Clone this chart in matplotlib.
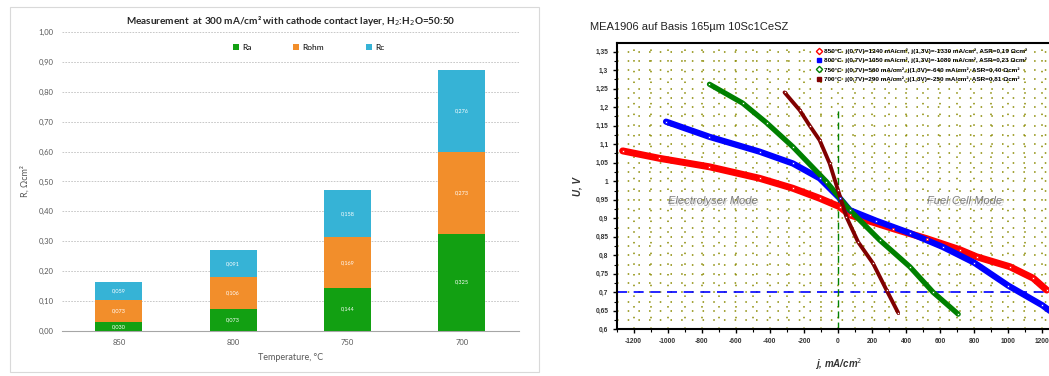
import matplotlib
matplotlib.use("Agg")
import matplotlib.pyplot as plt
from matplotlib.lines import Line2D
from matplotlib.patches import Rectangle
import matplotlib.ticker as mticker

# ---------------- Left chart data ----------------
temperatures = ["850", "800", "750", "700"]
r_a = [0.030, 0.073, 0.144, 0.325]
r_ohm = [0.073, 0.106, 0.169, 0.273]
r_c = [0.059, 0.091, 0.158, 0.276]
bar_series = ["Ra", "Rohm", "Rc"]
bar_colors = ["#12a012", "#f28e2b", "#36b3d6"]

# ---------------- Right chart data ----------------
j_850 = [-1265, -1049, -755, -461, -265, -108, 10, 69, 324, 520, 716, 814, 1010, 1147, 1226]
u_850 = [1.082, 1.062, 1.039, 1.008, 0.981, 0.954, 0.931, 0.909, 0.872, 0.845, 0.815, 0.796, 0.769, 0.738, 0.706]

j_800 = [-1010, -755, -461, -265, -108, 10, 69, 226, 422, 618, 800, 1000, 1200, 1250]
u_800 = [1.161, 1.120, 1.080, 1.048, 1.008, 0.954, 0.922, 0.893, 0.860, 0.822, 0.780, 0.718, 0.665, 0.648]

j_750 = [-755, -560, -420, -265, -68, 69, 245, 422, 559, 706]
u_750 = [1.262, 1.211, 1.158, 1.093, 0.999, 0.922, 0.841, 0.769, 0.700, 0.641]

j_700 = [-314, -225, -166, -108, -49, 0, 49, 118, 206, 285, 353]
u_700 = [1.240, 1.192, 1.150, 1.111, 1.048, 0.976, 0.904, 0.836, 0.778, 0.706, 0.645]

iv_labels = [
    "850°C  j(0,7V)=1240 mA/cm², j(1,3V)=-1330 mA/cm², ASR=0,19 Ωcm²",
    "800°C  j(0,7V)=1050 mA/cm², j(1,3V)=-1080 mA/cm², ASR=0,23 Ωcm²",
    "750°C  j(0,7V)=560 mA/cm², j(1,3V)=-640 mA/cm², ASR=0,40 Ωcm²",
    "700°C  j(0,7V)=290 mA/cm², j(1,3V)=-250 mA/cm², ASR=0,81 Ωcm²",
]
iv_colors = ["#ff0000", "#0000ff", "#008000", "#800000"]
iv_markers = ["D", "s", "D", "s"]
iv_filled = [False, True, False, True]
iv_widths = [5.0, 4.5, 3.8, 2.8]

ocv_j = 0
ocv_line_top = 1.2
ref_voltage = 0.7

x_ticks = [-1200, -1000, -800, -600, -400, -200, 0, 200, 400, 600, 800, 1000, 1200]
y_ticks = [0.6, 0.65, 0.7, 0.75, 0.8, 0.85, 0.9, 0.95, 1.0, 1.05, 1.1, 1.15, 1.2, 1.25, 1.3, 1.35]
y_tick_labels = ["0,6", "0,65", "0,7", "0,75", "0,8", "0,85", "0,9", "0,95", "1",
                 "1,05", "1,1", "1,15", "1,2", "1,25", "1,3", "1,35"]

W, H = 1049, 376
fig = plt.figure(figsize=(W / 100, H / 100), dpi=100)

# ---------------- Left chart ----------------
fig.patches.append(Rectangle((10 / W, 1 - 372 / H), (539 - 10) / W, (372 - 7) / H,
                             transform=fig.transFigure, fill=False, ec="#d9d9d9", lw=0.8))

axL = fig.add_axes([61.7 / W, 1 - 330.7 / H, (519 - 61.7) / W, (330.7 - 32.3) / H])
lfont = "Lato"
x = list(range(len(temperatures)))
bottom = [0.0] * len(x)
for name, vals, col in zip(bar_series, [r_a, r_ohm, r_c], bar_colors):
    bars = axL.bar(x, vals, width=0.41, bottom=bottom, color=col, label=name,
                   edgecolor="none", zorder=3)
    for b, v, b0 in zip(bars, vals, bottom):
        axL.text(b.get_x() + b.get_width() / 2, b0 + v / 2, f"{v:.3f}".replace(".", ","),
                 ha="center", va="center", color="white", fontsize=4, family=lfont, zorder=4)
    bottom = [b0 + v for b0, v in zip(bottom, vals)]

axL.set_xlim(-0.5, len(x) - 0.5)
axL.set_ylim(0, 1.0)
axL.set_xticks(x)
axL.set_xticklabels(temperatures)
axL.yaxis.set_major_locator(mticker.MultipleLocator(0.1))
axL.yaxis.set_major_formatter(mticker.FuncFormatter(lambda v, p: f"{v:.2f}".replace(".", ",")))
axL.tick_params(axis="both", length=0, labelsize=5.5, colors="#595959", pad=6)
for lab in axL.get_xticklabels() + axL.get_yticklabels():
    lab.set_family(lfont)
axL.grid(axis="y", color="#bfbfbf", linestyle=(0, (2, 1.5)), linewidth=0.6, zorder=0)
for s in ["top", "right", "left"]:
    axL.spines[s].set_visible(False)
axL.spines["bottom"].set_color("#a6a6a6")
axL.spines["bottom"].set_linewidth(0.8)
axL.set_xlabel("Temperature, °C", fontsize=6.5, color="#595959", family=lfont, labelpad=5)
axL.set_ylabel("R, Ωcm²", fontsize=6.5, color="#595959", family=lfont, labelpad=6)
axL.set_title("Measurement  at 300 mA/cm² with cathode contact layer, H$_2$:H$_2$O=50:50",
              fontsize=7.2, fontweight="bold", family=lfont, color="#262626", pad=6)
axL.legend(loc="upper center", bbox_to_anchor=(0.54, 0.985), ncol=3, frameon=False,
           handlelength=0.7, handleheight=0.7, columnspacing=5.0,
           handletextpad=0.4, prop={"family": lfont, "size": 6})

# ---------------- Right chart ----------------
x0pix = 616.7
x1pix = 838.3 + 1300 * 34 / 200
axR = fig.add_axes([x0pix / W, 1 - 329.3 / H, (x1pix - x0pix) / W, (329.3 - 43.3) / H])
axR.set_xlim(-1300, 1300)
axR.set_ylim(0.6, 1.3727)

axR.set_xticks(x_ticks)
axR.set_xticklabels([str(t) for t in x_ticks])
axR.set_yticks(y_ticks)
axR.set_yticklabels(y_tick_labels)
axR.xaxis.set_minor_locator(mticker.MultipleLocator(100))
axR.yaxis.set_minor_locator(mticker.MultipleLocator(0.025))
axR.grid(which="both", color="#8a8a00", linestyle=(0, (1, 6)), linewidth=1.1, zorder=0)
axR.tick_params(which="major", direction="out", length=3, width=1, labelsize=4.8, pad=3)
axR.tick_params(which="minor", direction="out", length=2, width=0.8)
for lab in axR.get_xticklabels() + axR.get_yticklabels():
    lab.set_fontweight("bold")
    lab.set_family("Liberation Sans")
    lab.set_color("#333333")
for s in ["left", "bottom", "top"]:
    axR.spines[s].set_linewidth(1.5)
axR.spines["right"].set_visible(False)

axR.axhline(ref_voltage, color="#0000ff", linestyle=(0, (6, 4)), linewidth=1.2, zorder=2)
axR.plot([ocv_j, ocv_j], [0.6, ocv_line_top], color="#008000",
         linestyle=(0, (5, 3)), linewidth=1.0, zorder=2)

series = [(j_850, u_850), (j_800, u_800), (j_750, u_750), (j_700, u_700)]
handles = []
for (jj, uu), col, mk, filled, lab, lw in zip(series, iv_colors, iv_markers, iv_filled,
                                              iv_labels, iv_widths):
    axR.plot(jj, uu, color=col, linewidth=lw, solid_capstyle="round", zorder=3)
    axR.plot(jj, uu, linestyle="none", marker="s", markersize=2.0, markerfacecolor="white",
             markeredgecolor=col, markeredgewidth=0.5, zorder=4)
    handles.append(Line2D([], [], linestyle="none", marker=mk, markersize=3.2,
                          markerfacecolor=(col if filled else "white"),
                          markeredgecolor=col, markeredgewidth=1.0, label=lab))

axR.legend(handles=handles, loc="upper left",
           bbox_to_anchor=(816 / W, 1 - 48.5 / H), bbox_transform=fig.transFigure,
           frameon=False, handlelength=0.8, handletextpad=0.5,
           labelspacing=0.55, borderaxespad=0, borderpad=0,
           prop={"family": "Liberation Sans", "size": 4.6, "weight": "bold"})

for txt, jx in [("Electrolyser Mode", -737), ("Fuel Cell Mode", 745)]:
    axR.text(jx + 8, 0.946 - 0.004, txt, ha="center", va="center", fontsize=8,
             style="italic", color="#d0d0d0", family="Liberation Sans", zorder=2)
    axR.text(jx, 0.946, txt, ha="center", va="center", fontsize=8,
             style="italic", color="#7a7a7a", family="Liberation Sans", zorder=2)

axR.set_xlabel("j, mA/cm$^2$", fontsize=7, fontstyle="italic", fontweight="bold",
               family="Liberation Sans", color="#333333")
axR.xaxis.set_label_coords((838.3 - x0pix) / (x1pix - x0pix), -0.095)
axR.set_ylabel("U, V", fontsize=7, fontstyle="italic", fontweight="bold",
               family="Liberation Sans", color="#333333")
axR.yaxis.set_label_coords(-0.078, 0.5)
fig.text(590 / W, 1 - 26.7 / H, "MEA1906 auf Basis 165µm 10Sc1CeSZ", ha="left", va="center",
         fontsize=8, family="Liberation Sans", color="#222222")

fig.savefig("out.png", dpi=100)
